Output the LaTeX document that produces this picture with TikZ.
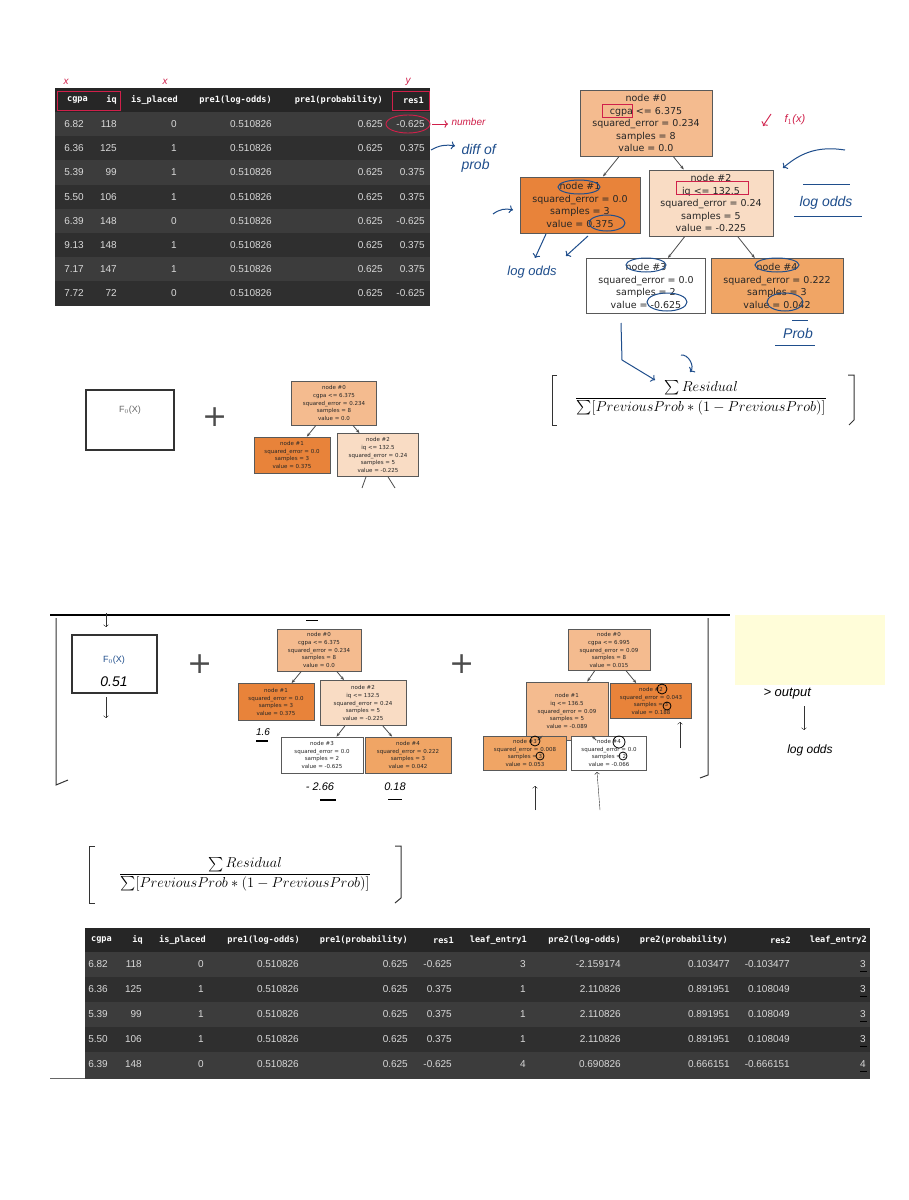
\documentclass[tikz,border=0pt]{standalone}
\usepackage{amsmath}
\usepackage{fontspec}
\setmainfont{Liberation Sans}
\newfontfamily\tmono{DejaVu Sans Mono}
\newfontfamily\tsans{DejaVu Sans}
\usetikzlibrary{arrows.meta}
\definecolor{ca}{HTML}{F4BB8F}
\definecolor{cb}{HTML}{E8833A}
\definecolor{cc}{HTML}{F9DCC4}
\definecolor{cd}{HTML}{F0A565}
\definecolor{ink}{HTML}{1F4E8C}
\definecolor{pen}{HTML}{D0204A}
\definecolor{hd}{HTML}{262626}
\definecolor{ra}{HTML}{3C3C3C}
\definecolor{rb}{HTML}{2F2F2F}
\tikzset{
 tnb/.style={draw=black!65, line width=1pt, align=center, inner sep=0pt, text=black!85},
 big/.style={tnb, font=\tsans\fontsize{9.5}{12.5}\selectfont},
 sml/.style={tnb, line width=0.7pt, font=\tsans\fontsize{5.5}{7.6}\selectfont},
 edge/.style={draw=black!70, line width=0.8pt, -{Stealth[length=4pt]}},
 hand/.style={ink, line width=1pt},
 handr/.style={pen, line width=0.9pt},
 htxt/.style={ink, font=\itshape\fontsize{12}{12}\selectfont},
 cell/.style={text=white!85!black, font=\fontsize{10}{10}\selectfont, anchor=east, inner sep=0pt},
 hcell/.style={text=white, font=\tmono\bfseries\fontsize{8.6}{9}\selectfont, anchor=east, inner sep=0pt},
 box/.style={draw=black!80, line width=1.3pt},
 brk/.style={draw=black!80, line width=1pt},
}
\newcommand{\myfrac}{$\dfrac{\sum Residual}{\sum[PreviousProb * (1 - PreviousProb)]}$}
\begin{document}
\begin{tikzpicture}[x=1pt,y=-1pt]
\useasboundingbox[fill=white] (0,0) rectangle (909,1200);

% ---------------- top table
\fill[hd] (55,88) rectangle (430,112);
\foreach \i in {0,...,7}{
  \pgfmathsetmacro\ya{112+\i*24.2}
  \pgfmathsetmacro\yb{112+(\i+1)*24.2}
  \ifodd\i \fill[rb] (55,\ya) rectangle (430,\yb); \else \fill[ra] (55,\ya) rectangle (430,\yb); \fi
}
\node[hcell] (h1) at (88,100) {cgpa};
\node[hcell] (h2) at (117,100) {iq};
\node[hcell] (h3) at (178,100) {is\_placed};
\node[hcell] (h4) at (272,100) {pre1(log-odds)};
\node[hcell] (h5) at (383,100) {pre1(probability)};
\node[hcell] (h6) at (424,100) {res1};
\def\toprows{6.82/118/0/-0.625,6.36/125/1/0.375,5.39/99/1/0.375,5.50/106/1/0.375,6.39/148/0/-0.625,9.13/148/1/0.375,7.17/147/1/0.375,7.72/72/0/-0.625}
\foreach \a/\b/\c/\d [count=\i from 0] in \toprows {
  \pgfmathsetmacro\yy{124.1+\i*24.2}
  \node[cell] at (84,\yy) {\a};
  \node[cell] at (117,\yy) {\b};
  \node[cell] at (177,\yy) {\c};
  \node[cell] at (272,\yy) {0.510826};
  \node[cell] at (383,\yy) {0.625};
  \node[cell] at (425,\yy) {\d};
}
\draw[handr] (57,91) rectangle (120,110);
\draw[handr] (392,91) rectangle (429,110);
\draw[handr] (408,124) ellipse (22 and 9);
\node[pen, font=\itshape\fontsize{10}{10}\selectfont] at (66,82) {x};
\node[pen, font=\itshape\fontsize{10}{10}\selectfont] at (165,82) {x};
\node[pen, font=\itshape\fontsize{10}{10}\selectfont] at (408,82) {y};
\coordinate (nA) at (432,124);
\coordinate (nB) at (448,124);
\draw[handr,->] (nA) -- (nB);
\node[pen, font=\itshape\fontsize{10}{10}\selectfont, anchor=west] at (448,122) {number};
\coordinate (dA) at (431,150);
\coordinate (dB) at (455,146);
\draw[hand,->] (dA) to[bend left=20] (dB);
\node[htxt, anchor=west, align=left, font=\itshape\fontsize{14}{15}\selectfont] at (458,158) {diff of\\prob};

% ---------------- top-right tree
\node[big, fill=ca, minimum width=132, minimum height=66] (t0) at (646,123) {node \#0\\cgpa <= 6.375\\squared\_error = 0.234\\samples = 8\\value = 0.0};
\node[big, fill=cb, minimum width=120, minimum height=56] (t1) at (580,205) {node \#1\\squared\_error = 0.0\\samples = 3\\value = 0.375};
\node[big, fill=cc, minimum width=124, minimum height=66] (t2) at (711,203) {node \#2\\iq <= 132.5\\squared\_error = 0.24\\samples = 5\\value = -0.225};
\node[big, fill=white, minimum width=119, minimum height=55] (t3) at (646,286) {node \#3\\squared\_error = 0.0\\samples = 2\\value = -0.625};
\node[big, fill=cd, minimum width=132, minimum height=55] (t4) at (777,286) {node \#4\\squared\_error = 0.222\\samples = 3\\value = 0.042};
\draw[edge] (t0) -- (t1);
\draw[edge] (t0) -- (t2);
\draw[edge] (t2) -- (t3);
\draw[edge] (t2) -- (t4);
\draw[handr] (602,104) rectangle (632,117);
\draw[handr] (676,181) rectangle (748,194);
\draw[hand] (579,187) ellipse (21 and 7);
\draw[hand] (607,223) ellipse (18 and 8);
\draw[hand] (646,265) ellipse (20 and 7);
\draw[hand] (667,302) ellipse (20 and 9);
\draw[hand] (777,265) ellipse (22 and 7);
\draw[hand] (785,302) ellipse (18 and 9);
\node[pen, font=\itshape\fontsize{11}{11}\selectfont] at (795,120) {f$_1$(x)};
\coordinate (fA) at (771,114); \coordinate (fB) at (763,126);
\draw[handr,->] (fA) -- (fB);
\coordinate (lA) at (845,150); \coordinate (lB) at (783,168);
\draw[hand,->] (lA) to[bend right=25] (lB);
\node[htxt, font=\itshape\fontsize{14}{14}\selectfont] (lo) at (826,203) {log odds};
\draw[hand] (803,184) -- (850,184);
\draw[hand] (794,216) -- (862,216);
\coordinate (a1) at (493,214); \coordinate (a2) at (513,210);
\draw[hand,->] (a1) to[bend left=25] (a2);
\coordinate (g1) at (546,234); \coordinate (g2) at (535,258);
\draw[hand,->] (g1) -- (g2);
\coordinate (g3) at (588,236); \coordinate (g4) at (566,256);
\draw[hand,->] (g3) -- (g4);
\node[htxt, font=\itshape\fontsize{13}{13}\selectfont] at (532,272) {log odds};
\node[htxt, font=\itshape\fontsize{14}{14}\selectfont] (pr) at (798,333) {Prob};
\draw[hand] (775,345) -- (815,345);
\draw[hand] (792,320) -- (808,320);
% formula top
\node[font=\fontsize{14}{17}\selectfont] (f1) at (701,398) {\myfrac};
\draw[brk] (557,375) -- (552,375) -- (552,425) -- (557,425);
\draw[brk] (848,375) -- (854,375) -- (854,420) -- (849,425);
\coordinate (r1) at (621,323);
\coordinate (r2) at (622,360);
\coordinate (r3) at (655,380);
\draw[hand,->] (r1) -- (r2) -- (r3);
\coordinate (q1) at (681,355); \coordinate (q2) at (690,372);
\draw[hand,->] (q1) to[bend left=70] (q2);

% ---------------- middle
\draw[box] (86,390) rectangle (174,450);
\node[text=black!60, font=\fontsize{9}{9}\selectfont] (m0) at (130,410) {F$_0$(X)};
\node[font=\fontsize{30}{30}\selectfont\tsans, text=black!70] (pl1) at (215,417) {+};
\node[sml, fill=ca, minimum width=85, minimum height=44] (m1) at (334,403) {node \#0\\cgpa <= 6.375\\squared\_error = 0.234\\samples = 8\\value = 0.0};
\node[sml, fill=cb, minimum width=76, minimum height=36] (m2) at (292,455) {node \#1\\squared\_error = 0.0\\samples = 3\\value = 0.375};
\node[sml, fill=cc, minimum width=81, minimum height=43] (m3) at (378,455) {node \#2\\iq <= 132.5\\squared\_error = 0.24\\samples = 5\\value = -0.225};
\draw[edge] (m1) -- (m2);
\draw[edge] (m1) -- (m3);
\coordinate (m4) at (362,488); \coordinate (m5) at (395,488);
\draw[draw=black!70, line width=0.8pt] (m3.south) ++(-12,0) -- (m4);
\draw[draw=black!70, line width=0.8pt] (m3.south) ++(10,0) -- (m5);

% ---------------- bottom section
\fill[yellow!15] (735,615) rectangle (885,685);
\draw[line width=1.2pt] (50,615) -- (730,615);
\draw[brk] (56,618) -- (56,785) -- (68,780);
\draw[brk] (708,618) -- (708,775) -- (700,778);
\coordinate (u1) at (106,613); \coordinate (u2) at (106,627);
\draw[black!80,->] (u1) -- (u2);
\draw[box] (72,635) rectangle (157,693);
\node[ink, font=\fontsize{9}{9}\selectfont] (b0) at (114,660) {F$_0$(X)};
\node[font=\itshape\fontsize{14}{14}\selectfont] at (114,682) {0.51};
\coordinate (d1) at (106,697); \coordinate (d2) at (106,718);
\draw[black!80,->] (d1) -- (d2);
\node[font=\fontsize{30}{30}\selectfont\tsans, text=black!70] at (200,664) {+};
\node[font=\fontsize{30}{30}\selectfont\tsans, text=black!70] at (462,664) {+};
% tree A
\node[sml, fill=ca, minimum width=84, minimum height=42] (A0) at (319,650) {node \#0\\cgpa <= 6.375\\squared\_error = 0.234\\samples = 8\\value = 0.0};
\node[sml, fill=cb, minimum width=76, minimum height=37] (A1) at (276,702) {node \#1\\squared\_error = 0.0\\samples = 3\\value = 0.375};
\node[sml, fill=cc, minimum width=86, minimum height=45] (A2) at (363,703) {node \#2\\iq <= 132.5\\squared\_error = 0.24\\samples = 5\\value = -0.225};
\node[sml, fill=white, minimum width=82, minimum height=36] (A3) at (322,755) {node \#3\\squared\_error = 0.0\\samples = 2\\value = -0.625};
\node[sml, fill=cd, minimum width=86, minimum height=36] (A4) at (408,755) {node \#4\\squared\_error = 0.222\\samples = 3\\value = 0.042};
\draw[edge] (A0) -- (A1); \draw[edge] (A0) -- (A2);
\draw[edge] (A2) -- (A3); \draw[edge] (A2) -- (A4);
\draw[line width=1pt] (306,620) -- (318,620);
\node[font=\itshape\fontsize{10}{10}\selectfont] at (263,732) {1.6};
\draw[line width=1.5pt] (256,741) -- (268,741);
\node[font=\itshape\fontsize{11}{11}\selectfont] at (320,787) {- 2.66};
\draw[line width=1.5pt] (320,800) -- (336,800);
\node[font=\itshape\fontsize{11}{11}\selectfont] at (395,787) {0.18};
\draw[line width=0.8pt] (388,799) -- (402,799);
% tree B
\node[sml, fill=ca, minimum width=82, minimum height=41] (B0) at (609,650) {node \#0\\cgpa <= 6.995\\squared\_error = 0.09\\samples = 8\\value = 0.015};
\node[sml, fill=ca, minimum width=82, minimum height=58] (B1) at (567,711) {node \#1\\iq <= 136.5\\squared\_error = 0.09\\samples = 5\\value = -0.089};
\node[sml, fill=cb, minimum width=81, minimum height=35] (B2) at (651,701) {node \#2\\squared\_error = 0.043\\samples = 3\\value = 0.188};
\node[sml, fill=cd, minimum width=83, minimum height=34] (B3) at (525,753) {node \#3\\squared\_error = 0.008\\samples = 3\\value = 0.053};
\node[sml, fill=white, minimum width=75, minimum height=34] (B4) at (609,753) {node \#4\\squared\_error = 0.0\\samples = 2\\value = -0.066};
\draw[edge] (B0) -- (B1); \draw[edge] (B0) -- (B2);
\draw[edge] (B1) -- (B3); \draw[edge] (B1) -- (B4);
\draw[line width=0.8pt] (662,689) circle (5); \draw[line width=0.8pt] (667,706) circle (4);
\draw[line width=0.8pt] (535,741) circle (5); \draw[line width=0.8pt] (540,756) circle (4);
\draw[line width=0.8pt] (619,742) circle (6); \draw[line width=0.8pt] (623,756) circle (4);
\coordinate (k1) at (535,810); \coordinate (k2) at (535,786);
\draw[black!80,->] (k1) -- (k2);
\coordinate (k3) at (600,810); \coordinate (k4) at (597,772);
\draw[black!80,->] (k3) -- (k4);
\coordinate (k5) at (680,748); \coordinate (k6) at (680,722);
\draw[black!80,->] (k5) -- (k6);
\node[font=\itshape\fontsize{13}{13}\selectfont, anchor=west] (out) at (760,694) {> output};
\coordinate (o1) at (804,706); \coordinate (o2) at (804,730);
\draw[black!80,->] (o1) -- (o2);
\node[font=\itshape\fontsize{12}{12}\selectfont] at (810,750) {log odds};

% formula bottom
\node[font=\fontsize{14}{17}\selectfont] (f2) at (245,874) {\myfrac};
\draw[brk] (95,846) -- (89,846) -- (89,903) -- (95,903);
\draw[brk] (395,846) -- (401,846) -- (401,898) -- (395,903);

% ---------------- bottom table
\fill[hd] (85,928) rectangle (870,952);
\foreach \i in {0,...,4}{
  \pgfmathsetmacro\ya{952+\i*25}
  \pgfmathsetmacro\yb{952+(\i+1)*25}
  \ifodd\i \fill[rb] (85,\ya) rectangle (870,\yb); \else \fill[ra] (85,\ya) rectangle (870,\yb); \fi
}
\fill[ra] (85,1077) rectangle (870,1079);
\draw[black!60, line width=1pt] (50,1078) -- (85,1078);
\node[hcell] at (112,940) {cgpa};
\node[hcell] at (143,940) {iq};
\node[hcell] at (206,940) {is\_placed};
\node[hcell] at (300,940) {pre1(log-odds)};
\node[hcell] at (408,940) {pre1(probability)};
\node[hcell] at (454,940) {res1};
\node[hcell] at (527,940) {leaf\_entry1};
\node[hcell] at (621,940) {pre2(log-odds)};
\node[hcell] at (728,940) {pre2(probability)};
\node[hcell] at (791,940) {res2};
\node[hcell] at (867,940) {leaf\_entry2};
\def\botrows{6.82/118/0/-0.625/3/-2.159174/0.103477/-0.103477/3,6.36/125/1/0.375/1/2.110826/0.891951/0.108049/3,5.39/99/1/0.375/1/2.110826/0.891951/0.108049/3,5.50/106/1/0.375/1/2.110826/0.891951/0.108049/3,6.39/148/0/-0.625/4/0.690826/0.666151/-0.666151/4}
\foreach \a/\b/\c/\d/\e/\f/\g/\h/\k [count=\i from 0] in \botrows {
  \pgfmathsetmacro\yy{964.5+\i*25}
  \node[cell] at (108,\yy) {\a};
  \node[cell] at (142,\yy) {\b};
  \node[cell] at (204,\yy) {\c};
  \node[cell] at (299,\yy) {0.510826};
  \node[cell] at (408,\yy) {0.625};
  \node[cell] at (452,\yy) {\d};
  \node[cell] at (526,\yy) {\e};
  \node[cell] at (621,\yy) {\f};
  \node[cell] at (730,\yy) {\g};
  \node[cell] at (790,\yy) {\h};
  \node[cell] at (866,\yy) {\k};
  \draw[black, line width=1pt] (860,\yy+7) -- (867,\yy+7);
}
\end{tikzpicture}
\end{document}
